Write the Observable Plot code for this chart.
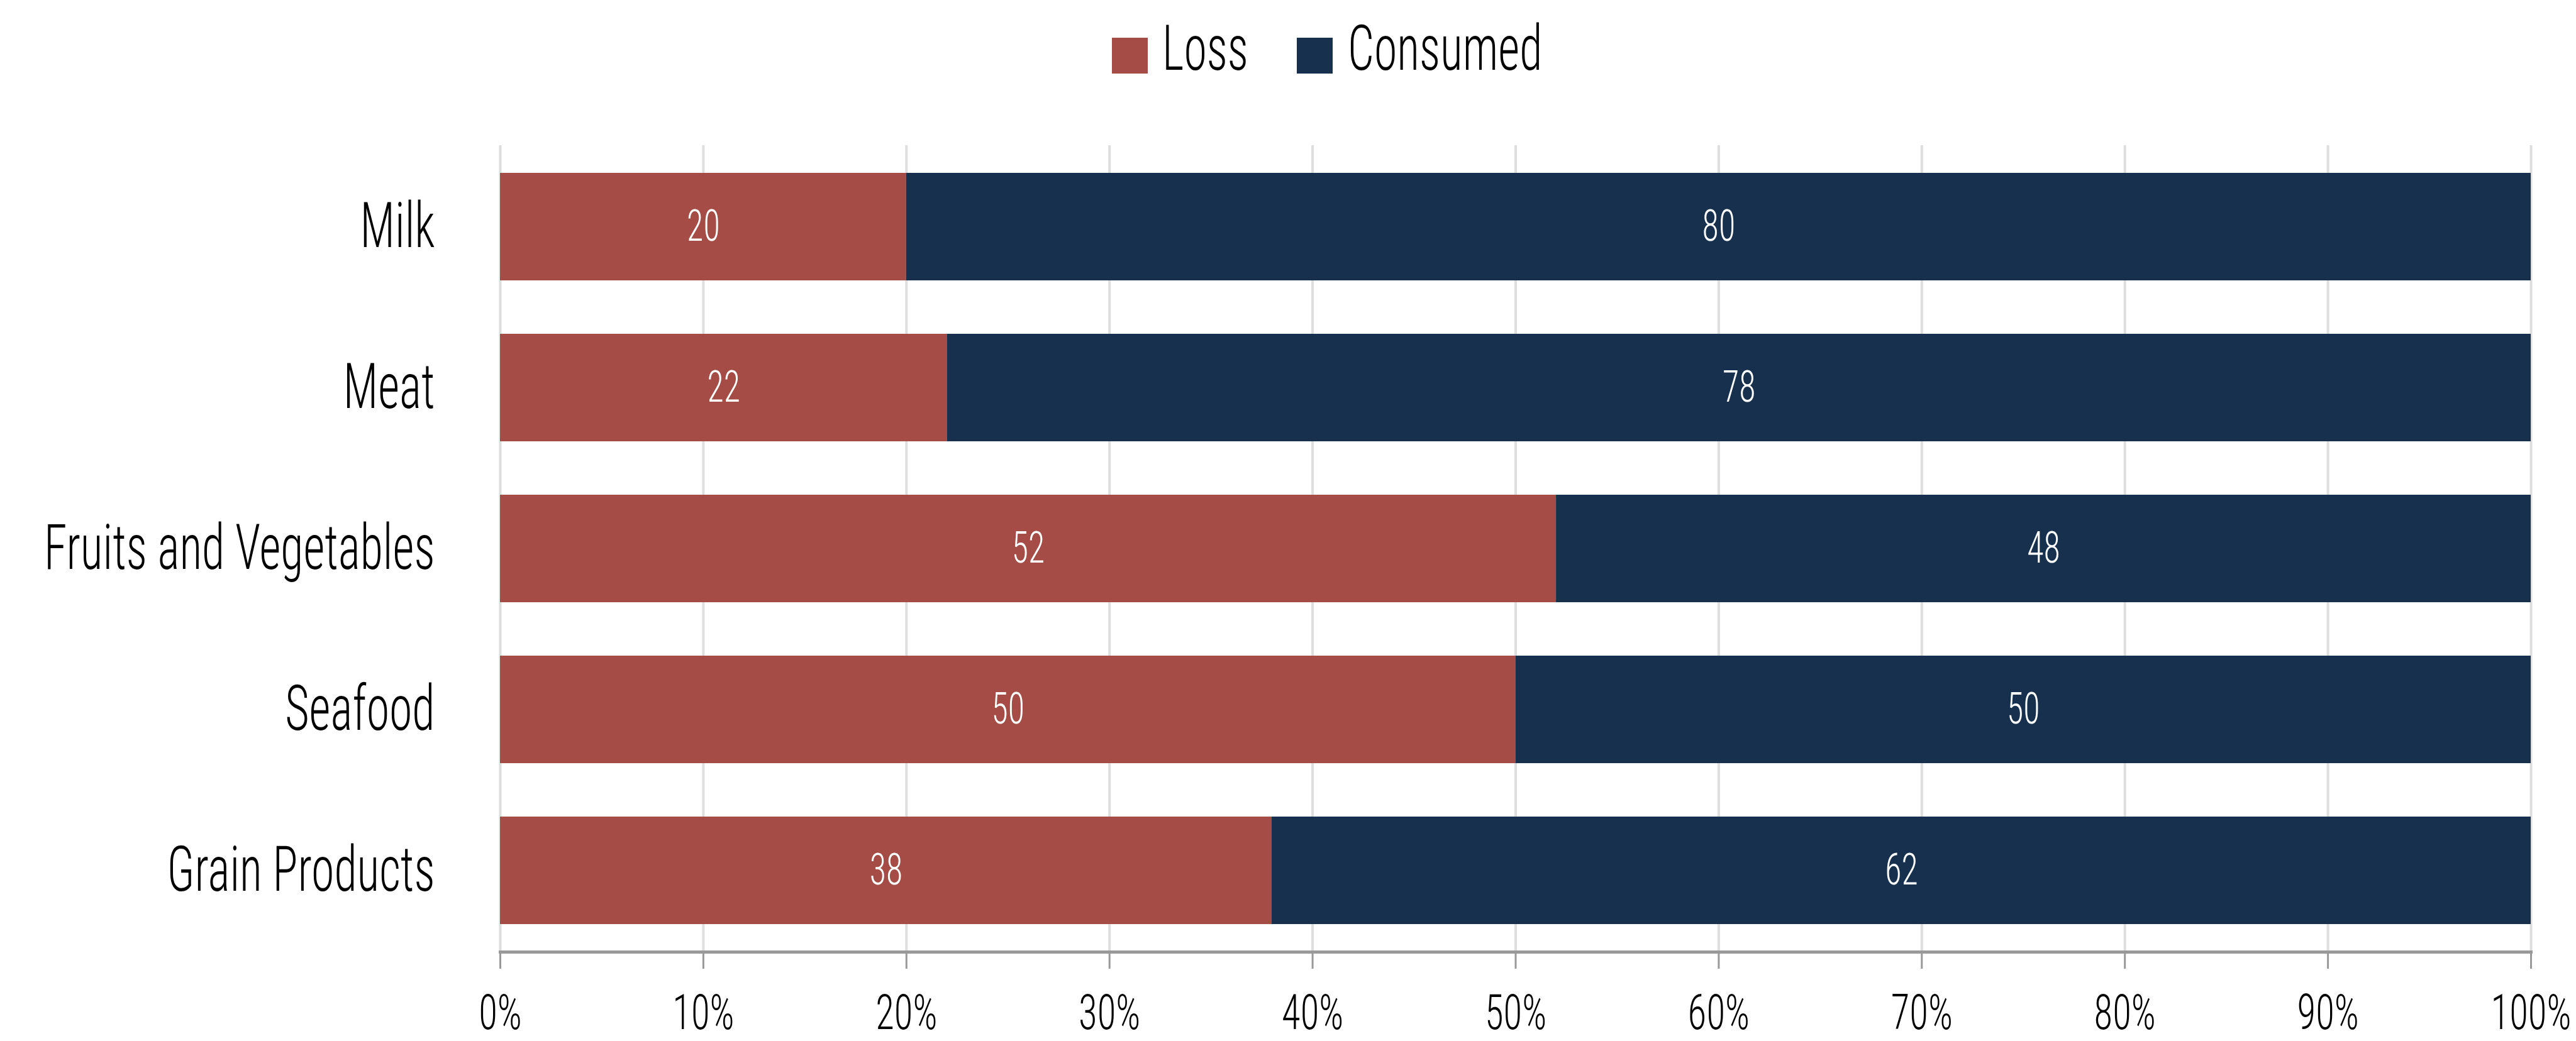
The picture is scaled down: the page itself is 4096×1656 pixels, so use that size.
<!DOCTYPE html>
<html><head><meta charset="utf-8">
<script src="https://cdn.jsdelivr.net/npm/d3@7"></script>
<script src="https://cdn.jsdelivr.net/npm/@observablehq/plot@0.6"></script>
<style>
body{margin:0;background:#fff;}
#wrap{position:relative;width:4096px;height:1656px;font-family:"Roboto Condensed","Liberation Sans Narrow","DejaVu Sans Condensed",sans-serif;font-weight:300;overflow:hidden;}
#legend{position:relative;height:160px;}
.sw{position:absolute;top:60px;width:57px;height:57px;}
.lt{position:absolute;top:27px;font-size:100px;line-height:100px;color:#000;transform-origin:0 50%;white-space:nowrap;}
</style></head><body>
<div id="wrap"><div id="legend"></div><div id="chart"></div></div>
<script>
const foods = ["Milk", "Meat", "Fruits and Vegetables", "Seafood", "Grain Products"];
const loss = [20, 22, 52, 50, 38];
const consumed = [80, 78, 48, 50, 62];
const seriesNames = ["Loss", "Consumed"];
const seriesColors = ["#a44c45", "#16304e"];
const xTicks = [0, 10, 20, 30, 40, 50, 60, 70, 80, 90, 100];

const FONT = '"Roboto Condensed","Liberation Sans Narrow","DejaVu Sans Condensed",sans-serif';

// horizontal squeeze factors to mimic the reference's very condensed face
const ctx = document.createElement("canvas").getContext("2d");
function squeezeFactor(size, ref) {
  ctx.font = `300 ${size}px ${FONT}`;
  let sm = 0, st = 0;
  for (const [s, w] of Object.entries(ref)) { sm += ctx.measureText(s).width; st += w; }
  return st / sm;
}
const K = squeezeFactor(100, {"Consumed": 311, "Fruits and Vegetables": 621, "Grain Products": 431, "Seafood": 232, "Milk": 119});
const KT = squeezeFactor(77.5, {"100%": 123.5, "0%": 73});
const KV = squeezeFactor(70, {"20": 52.6});

const rows = foods.flatMap((f, i) => [
  {food: f, series: seriesNames[0], value: loss[i]},
  {food: f, series: seriesNames[1], value: consumed[i]}
]);

// legend
const legend = document.getElementById("legend");
const legPos = [[1768, 1848], [2062, 2143]];
seriesNames.forEach((s, i) => {
  const sw = document.createElement("div");
  sw.className = "sw"; sw.style.left = legPos[i][0] + "px"; sw.style.background = seriesColors[i];
  legend.appendChild(sw);
  const t = document.createElement("div");
  t.className = "lt"; t.style.left = legPos[i][1] + "px"; t.style.transform = `scaleX(${K})`;
  t.textContent = s;
  legend.appendChild(t);
});

const chart = Plot.plot({
  width: 4096, height: 1496,
  marginTop: 71, marginBottom: 142, marginLeft: 795, marginRight: 72,
  style: {fontFamily: FONT, fontSize: "77px", fontWeight: 300, color: "#000", background: "#fff"},
  x: {domain: [0, 100], label: null},
  y: {domain: foods, paddingInner: 0.333, paddingOuter: 0.1667, label: null},
  color: {domain: seriesNames, range: seriesColors},
  marks: [
    Plot.gridX(xTicks, {stroke: "#dedede", strokeOpacity: 1, strokeWidth: 4}),
    Plot.barX(rows, Plot.stackX({x: "value", y: "food", fill: "series", order: seriesNames})),
    Plot.text(rows, Plot.stackX({x: "value", y: "food", z: "series", order: seriesNames, text: d => String(d.value), fill: "white", fontSize: 70, className: "vlab"})),
    Plot.frame({anchor: "bottom", stroke: "#999", strokeWidth: 5}),
    Plot.axisX(xTicks, {tickSize: 27, tickPadding: 40, stroke: "#999", strokeWidth: 3, fill: "#000", fontSize: 77.5, tickFormat: d => d + "%", label: null, className: "xax"}),
    Plot.axisY({tickSize: 0, tickPadding: 104, fontSize: 100, fill: "#000", label: null})
  ]
});
document.getElementById("chart").appendChild(chart);

const done = new Set();
function squeeze(sel, k) {
  chart.querySelectorAll(sel).forEach(t => {
    if (done.has(t)) return;
    done.add(t);
    const tr = t.getAttribute("transform");
    if (tr && /^translate\([^)]*\)$/.test(tr.trim())) {
      t.setAttribute("transform", `${tr} scale(${k.toFixed(4)},1)`);
    } else {
      const L = t.getComputedTextLength();
      if (L > 0) {
        t.setAttribute("textLength", (L * k).toFixed(2));
        t.setAttribute("lengthAdjust", "spacingAndGlyphs");
      }
    }
  });
}
squeeze(".xax text", KT);
squeeze(".vlab text", KV);
squeeze("text", K);
</script>
</body></html>
